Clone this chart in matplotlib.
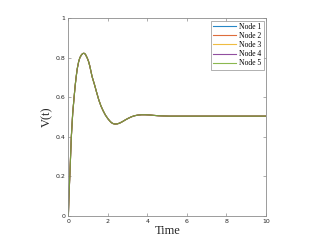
import matplotlib
matplotlib.use("Agg")
import matplotlib.pyplot as plt

# response (all nodes overlap)
t = [0, 0.03, 0.08, 0.15, 0.22, 0.29, 0.34, 0.39, 0.45, 0.52, 0.58, 0.65, 0.72,
     0.79, 0.86, 0.95, 1.02, 1.08, 1.2, 1.32, 1.43, 1.54, 1.65, 1.76, 1.87,
     2.0, 2.1, 2.18, 2.27, 2.36, 2.48, 2.6, 2.75, 2.9, 3.05, 3.2, 3.35, 3.5,
     3.7, 3.88, 4.1, 4.3, 4.55, 4.8, 5.1, 5.5, 6.5, 8, 10]
v = [0, 0.1, 0.22, 0.4, 0.52, 0.6, 0.655, 0.7, 0.745, 0.78, 0.80, 0.813, 0.821,
     0.823, 0.818, 0.80, 0.782, 0.76, 0.705, 0.665, 0.625, 0.587, 0.556, 0.532,
     0.511, 0.492, 0.48, 0.472, 0.467, 0.465, 0.466, 0.47, 0.478, 0.487, 0.495,
     0.502, 0.507, 0.51, 0.512, 0.512, 0.511, 0.509, 0.507, 0.506, 0.505,
     0.505, 0.505, 0.505, 0.505]

nodes = ["Node 1", "Node 2", "Node 3", "Node 4", "Node 5"]
colors = ["#0072BD", "#D95319", "#EDB120", "#7E2F8E", "#77AC30"]

fig = plt.figure(figsize=(3.24, 2.43), dpi=100)
ax = fig.add_axes([0.211, 0.111, 0.610, 0.814])

for name, c in zip(nodes, colors):
    ax.plot(t, v, color=c, lw=0.8, label=name, alpha=0.85)

ax.set_xlim(0, 10)
ax.set_ylim(0, 1)
ax.set_xticks([0, 2, 4, 6, 8, 10])
ax.set_yticks([0, 0.2, 0.4, 0.6, 0.8, 1])
ax.set_yticklabels(["0", "0.2", "0.4", "0.6", "0.8", "1"])

grey = "#262626"
for s in ax.spines.values():
    s.set_color("#8c8c8c")
    s.set_linewidth(0.6)
ax.tick_params(direction="in", length=2, width=0.5, color="#8c8c8c",
               labelsize=4.5, labelcolor=grey, top=True, right=True, pad=2)

serif = "Liberation Serif"
ax.set_xlabel("Time", fontsize=9, family=serif, color=grey, labelpad=1)
ax.set_ylabel("V(t)", fontsize=9, family=serif, color=grey, labelpad=2)

leg = ax.legend(loc="upper right", prop={"family": serif, "size": 5.5},
                frameon=True, fancybox=False, edgecolor="#8c8c8c",
                handlelength=3.0, handletextpad=0.4, borderpad=0.3,
                labelspacing=0.15, borderaxespad=0.3)
leg.get_frame().set_linewidth(0.6)

fig.savefig("out.png", dpi=100)
